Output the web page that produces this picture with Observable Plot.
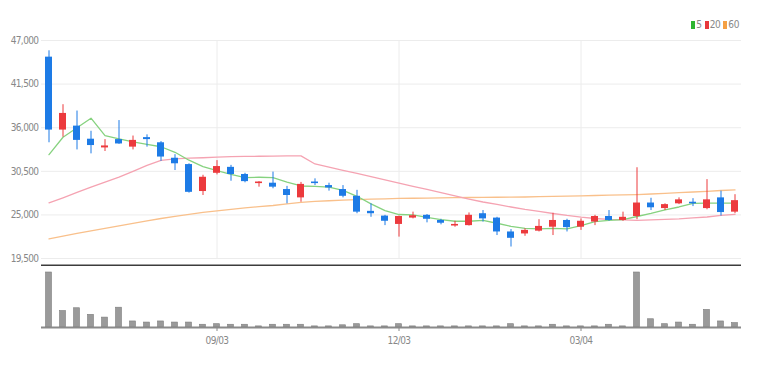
<!DOCTYPE html>
<html>
<head>
<meta charset="utf-8">
<script src="https://cdn.jsdelivr.net/npm/d3@7"></script>
<script src="https://cdn.jsdelivr.net/npm/@observablehq/plot@0.6"></script>
<style>
  html, body { margin: 0; padding: 0; background: #fff; }
  #wrap { position: relative; width: 757px; height: 368px; overflow: hidden; font-family: "Liberation Sans Narrow", "DejaVu Sans Condensed", sans-serif; }
  #wrap svg { display: block; }
  #wrap svg text { letter-spacing: -0.6px; }
  #legend { position: absolute; top: 19px; right: 18px; font-size: 10px; color: #888; display: flex; align-items: center; gap: 3px; letter-spacing: -0.4px; }
  #legend .sw { display: inline-block; width: 4px; height: 8px; margin-right: 1px; vertical-align: middle; }
  #legend .it { display: flex; align-items: center; }
</style>
</head>
<body>
<div id="wrap">
  <div id="price"></div>
  <div id="volume"></div>
  <div id="legend">
    <span class="it"><span class="sw" style="background:#2fb52f"></span>5</span>
    <span class="it"><span class="sw" style="background:#e8383d"></span>20</span>
    <span class="it"><span class="sw" style="background:#f5a043"></span>60</span>
  </div>
</div>
<script>
const dates = ["2018-06-11","2018-06-18","2018-06-25","2018-07-02","2018-07-09","2018-07-16","2018-07-23","2018-07-30","2018-08-06","2018-08-13",
"2018-08-20","2018-08-27","2018-09-03","2018-09-10","2018-09-17","2018-09-24","2018-10-01","2018-10-08","2018-10-15","2018-10-22",
"2018-10-29","2018-11-05","2018-11-12","2018-11-19","2018-11-26","2018-12-03","2018-12-10","2018-12-17","2018-12-24","2018-12-31",
"2019-01-07","2019-01-14","2019-01-21","2019-01-28","2019-02-04","2019-02-11","2019-02-18","2019-02-25","2019-03-04","2019-03-11",
"2019-03-18","2019-03-25","2019-04-01","2019-04-08","2019-04-15","2019-04-22","2019-04-29","2019-05-06","2019-05-13","2019-05-20"];

const open  = [44900,35700,36200,34550,33450,34500,33550,34750,34100,32150,31350,27950,30250,31000,30100,28950,29000,28200,27150,29150,
28700,28200,27350,25450,24850,23800,24600,24950,24300,23600,23650,25150,24600,22850,22600,22950,23450,24300,23450,24100,
24800,24300,24800,26500,25800,26400,26600,25800,27150,25350];
const high  = [45700,38900,38100,35550,34500,36900,34950,35100,34250,32600,31450,30000,31850,31250,30250,29200,30400,28600,29100,29550,
29000,28700,28100,26400,24950,24850,25350,25050,24450,24200,25250,25550,24700,23150,23250,24400,25200,24450,24500,24950,
25550,25350,30950,27100,26400,27150,27050,29450,28000,27550];
const low   = [34100,34800,33200,32700,33000,33900,33200,33550,31750,30600,27750,27450,30050,29250,29050,28500,28300,26400,26600,28700,
28000,27150,25150,24700,23650,22200,24500,24000,23750,23450,23600,24100,22400,20950,22300,22850,22400,22850,23050,23650,
24200,24200,24400,25550,25550,26300,26050,25650,24850,25150];
const close = [35700,37800,34400,33750,33700,33950,34400,34500,32300,31450,27850,29750,31100,30100,29200,29150,28500,27450,28850,28950,
28400,27350,25350,25150,24200,24800,24900,24450,23950,23800,24950,24500,22850,22050,23050,23550,24300,23400,24200,24800,
24300,24700,26500,25900,26300,26900,26400,26900,25300,26800];

const ma5  = [32600,34800,36000,37200,35000,34600,34200,33900,33600,32900,31900,31100,30600,30100,29700,29750,29700,29150,28650,28600,
28500,28100,27350,26400,25550,25050,25000,24700,24400,24200,24200,24300,23950,23550,23300,23250,23300,23250,23650,24150,
24300,24400,24800,25200,25650,26000,26450,26500,26500,26500];
const ma20 = [26530,27160,27830,28500,29130,29760,30480,31240,31870,32080,32160,32210,32290,32350,32380,32400,32420,32440,32440,31430,
31020,30620,30230,29820,29420,29020,28610,28210,27810,27400,27000,26630,26320,26000,25690,25440,25180,24930,24720,24550,
24430,24370,24300,24370,24430,24490,24620,24740,24930,25060];
const ma60 = [21990,22320,22660,22980,23290,23610,23920,24240,24550,24810,25060,25310,25500,25690,25880,26040,26190,26380,26570,26700,
26790,26860,26930,26980,27030,27080,27100,27130,27150,27180,27200,27210,27230,27240,27260,27300,27330,27360,27400,27450,
27490,27520,27570,27640,27720,27800,27890,27970,28080,28160];

const volume = [1000,300,350,230,180,360,110,90,110,90,90,50,60,50,50,20,50,50,50,20,
20,40,60,20,20,60,20,20,20,20,20,20,20,60,20,20,50,20,20,20,
50,20,1000,150,60,90,50,320,110,80];

const priceTicks = [47000,41500,36000,30500,25000,19500];
const tickDates = ["2018-09-03","2018-12-03","2019-03-04"];
const priceDomain = [18620, 47000];

const UP = "#ec3a3d", DOWN = "#1d7be6";
const data = dates.map((d, i) => ({
  date: d, open: open[i], high: high[i], low: low[i], close: close[i],
  ma5: ma5[i], ma20: ma20[i], ma60: ma60[i], volume: volume[i],
  color: close[i] >= open[i] ? UP : DOWN
}));

const xScale = {type: "band", domain: dates, paddingInner: 0.5, paddingOuter: 0.25};
const font = {fontFamily: "'Liberation Sans Narrow', 'DejaVu Sans Condensed', sans-serif", fontSize: "10px", color: "#888", background: "transparent"};

const price = Plot.plot({
  width: 757, height: 266,
  marginLeft: 41, marginRight: 16, marginTop: 40, marginBottom: 1,
  style: font,
  x: {...xScale, axis: null},
  y: {domain: priceDomain, ticks: priceTicks, tickFormat: d3.format(","), tickSize: 0, tickPadding: 3, label: null},
  marks: [
    Plot.ruleY(priceTicks, {stroke: "#ececec"}),
    Plot.ruleX(tickDates, {y1: priceTicks[priceTicks.length - 1], y2: priceTicks[0], stroke: "#ececec"}),
    Plot.ruleY([priceDomain[0]], {stroke: "#3c3c3c", strokeWidth: 2}),
    Plot.line(data, {x: "date", y: "ma60", stroke: "#f9c08b", strokeWidth: 1.3}),
    Plot.line(data, {x: "date", y: "ma20", stroke: "#f5a3b2", strokeWidth: 1.3}),
    Plot.line(data, {x: "date", y: "ma5", stroke: "#86d27f", strokeWidth: 1.3}),
    Plot.ruleX(data, {x: "date", y1: "low", y2: "high", stroke: "color", strokeWidth: 1}),
    Plot.barY(data, {x: "date", y1: "open", y2: "close", fill: "color"})
  ]
});
document.getElementById("price").appendChild(price);

const vol = Plot.plot({
  width: 757, height: 102,
  marginLeft: 41, marginRight: 16, marginTop: 6, marginBottom: 41,
  style: font,
  x: {...xScale, ticks: tickDates, tickFormat: d => d.slice(5, 7) + "/" + d.slice(8, 10), tickSize: 4, tickPadding: 5, label: null},
  y: {axis: null, domain: [0, d3.max(volume)]},
  marks: [
    Plot.barY(data, {x: "date", y: "volume", fill: "#9a9a9a", stroke: "#7d7d7d", strokeWidth: 0.6, insetLeft: 0.5, insetRight: 0.5}),
    Plot.ruleY([0], {stroke: "#8a8a8a", strokeWidth: 2})
  ]
});
document.getElementById("volume").appendChild(vol);
</script>
</body>
</html>
